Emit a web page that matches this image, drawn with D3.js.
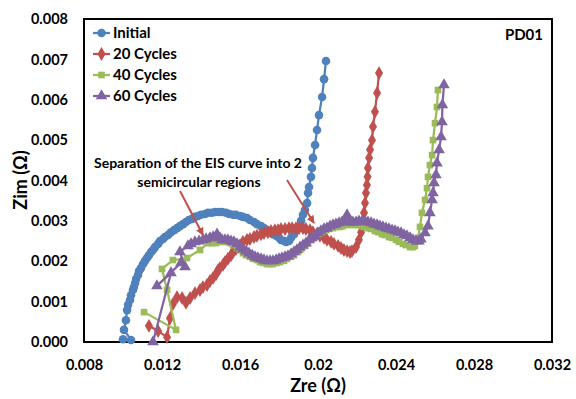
<!DOCTYPE html>
<html><head><meta charset="utf-8">
<script src="https://cdn.jsdelivr.net/npm/d3@7"></script>
<style>
html,body{margin:0;padding:0;background:#fff;}
svg{display:block;font-family:Lato,"Open Sans",sans-serif;font-weight:bold;}
</style></head>
<body>
<svg id="chart" width="576" height="399"></svg>
<script>
const seriesNames = ["Initial", "20 Cycles", "40 Cycles", "60 Cycles"];
const xTickValues = [0.008, 0.012, 0.016, 0.020, 0.024, 0.028, 0.032];
const xTickLabels = ["0.008", "0.012", "0.016", "0.02", "0.024", "0.028", "0.032"];
const yTickValues = [0, 0.001, 0.002, 0.003, 0.004, 0.005, 0.006, 0.007, 0.008];
const yTickLabels = ["0.000", "0.001", "0.002", "0.003", "0.004", "0.005", "0.006", "0.007", "0.008"];

const initialZre = [0.01000,0.01041,0.01005,0.01015,0.01021,0.01026,0.01036,0.01041,0.01051,0.01056,0.01062,0.01067,0.01077,0.01082,0.01092,0.01103,0.01113,0.01123,0.01133,0.01144,0.01154,0.01164,0.01180,0.01190,0.01205,0.01215,0.01231,0.01246,0.01262,0.01277,0.01292,0.01308,0.01323,0.01338,0.01354,0.01369,0.01385,0.01400,0.01421,0.01436,0.01456,0.01472,0.01492,0.01508,0.01528,0.01544,0.01564,0.01579,0.01600,0.01615,0.01636,0.01651,0.01672,0.01687,0.01708,0.01723,0.01738,0.01754,0.01769,0.01785,0.01800,0.01810,0.01826,0.01836,0.01851,0.01862,0.01877,0.01887,0.01897,0.01913,0.01923,0.01933,0.01944,0.01949,0.01954,0.01964,0.01969,0.01974,0.01985,0.01995,0.02005,0.02021,0.02031,0.02041];
const initialZim = [0.00007,0.00005,0.00030,0.00054,0.00079,0.00092,0.00104,0.00116,0.00129,0.00136,0.00146,0.00156,0.00166,0.00176,0.00183,0.00193,0.00201,0.00208,0.00215,0.00223,0.00228,0.00235,0.00243,0.00250,0.00255,0.00260,0.00265,0.00272,0.00277,0.00282,0.00287,0.00292,0.00297,0.00302,0.00305,0.00310,0.00312,0.00315,0.00317,0.00320,0.00320,0.00322,0.00322,0.00322,0.00320,0.00317,0.00315,0.00315,0.00312,0.00310,0.00307,0.00302,0.00297,0.00292,0.00287,0.00282,0.00277,0.00272,0.00267,0.00263,0.00258,0.00253,0.00250,0.00248,0.00250,0.00258,0.00267,0.00277,0.00285,0.00300,0.00315,0.00327,0.00344,0.00369,0.00384,0.00409,0.00431,0.00456,0.00488,0.00525,0.00562,0.00607,0.00651,0.00696];

const c20Zre = [0.01133,0.01180,0.01226,0.01241,0.01256,0.01277,0.01303,0.01323,0.01344,0.01369,0.01395,0.01410,0.01431,0.01446,0.01462,0.01477,0.01487,0.01497,0.01513,0.01523,0.01538,0.01554,0.01564,0.01579,0.01590,0.01600,0.01615,0.01636,0.01651,0.01672,0.01687,0.01708,0.01723,0.01743,0.01759,0.01779,0.01795,0.01810,0.01831,0.01851,0.01867,0.01887,0.01903,0.01923,0.01938,0.01959,0.01974,0.01995,0.02010,0.02031,0.02046,0.02067,0.02082,0.02103,0.02118,0.02133,0.02149,0.02164,0.02174,0.02195,0.02210,0.02221,0.02226,0.02236,0.02241,0.02246,0.02251,0.02254,0.02256,0.02262,0.02267,0.02277,0.02282,0.02292,0.02303,0.02313];
const c20Zim = [0.00040,0.00027,0.00012,0.00059,0.00094,0.00111,0.00109,0.00097,0.00109,0.00121,0.00129,0.00136,0.00141,0.00151,0.00159,0.00168,0.00178,0.00183,0.00191,0.00198,0.00206,0.00215,0.00223,0.00230,0.00235,0.00240,0.00248,0.00253,0.00255,0.00260,0.00263,0.00267,0.00270,0.00272,0.00275,0.00277,0.00277,0.00280,0.00280,0.00282,0.00282,0.00282,0.00282,0.00282,0.00280,0.00277,0.00272,0.00268,0.00263,0.00258,0.00253,0.00248,0.00243,0.00238,0.00233,0.00228,0.00225,0.00223,0.00225,0.00235,0.00253,0.00272,0.00297,0.00320,0.00344,0.00369,0.00389,0.00409,0.00431,0.00456,0.00476,0.00500,0.00533,0.00570,0.00617,0.00666];

const c40Zre = [0.01108,0.01272,0.01226,0.01200,0.01256,0.01328,0.01395,0.01436,0.01456,0.01477,0.01492,0.01513,0.01528,0.01549,0.01564,0.01585,0.01600,0.01615,0.01631,0.01651,0.01667,0.01687,0.01703,0.01718,0.01738,0.01754,0.01769,0.01790,0.01805,0.01826,0.01841,0.01862,0.01877,0.01897,0.01913,0.01933,0.01949,0.01969,0.01985,0.02005,0.02021,0.02041,0.02056,0.02077,0.02092,0.02113,0.02128,0.02149,0.02164,0.02185,0.02200,0.02221,0.02236,0.02256,0.02272,0.02292,0.02308,0.02328,0.02344,0.02364,0.02380,0.02400,0.02415,0.02436,0.02451,0.02472,0.02487,0.02497,0.02513,0.02523,0.02533,0.02549,0.02559,0.02564,0.02574,0.02585,0.02590,0.02600,0.02610,0.02615];
const c40Zim = [0.00074,0.00030,0.00129,0.00181,0.00203,0.00208,0.00228,0.00245,0.00245,0.00245,0.00248,0.00248,0.00248,0.00245,0.00240,0.00233,0.00228,0.00220,0.00215,0.00211,0.00206,0.00203,0.00198,0.00196,0.00193,0.00193,0.00193,0.00196,0.00198,0.00201,0.00206,0.00211,0.00215,0.00223,0.00230,0.00238,0.00245,0.00255,0.00263,0.00268,0.00272,0.00277,0.00280,0.00282,0.00285,0.00285,0.00287,0.00290,0.00290,0.00290,0.00290,0.00287,0.00285,0.00282,0.00280,0.00275,0.00272,0.00267,0.00265,0.00260,0.00258,0.00253,0.00248,0.00243,0.00240,0.00235,0.00235,0.00238,0.00258,0.00285,0.00320,0.00352,0.00381,0.00409,0.00438,0.00463,0.00500,0.00542,0.00582,0.00624];

const c60Zre = [0.01154,0.01246,0.01174,0.01297,0.01318,0.01292,0.01333,0.01349,0.01369,0.01390,0.01410,0.01426,0.01446,0.01462,0.01482,0.01497,0.01508,0.01523,0.01538,0.01554,0.01569,0.01585,0.01600,0.01615,0.01631,0.01646,0.01662,0.01677,0.01692,0.01708,0.01723,0.01738,0.01754,0.01769,0.01785,0.01800,0.01815,0.01831,0.01846,0.01862,0.01877,0.01892,0.01908,0.01923,0.01938,0.01954,0.01969,0.01985,0.02000,0.02015,0.02031,0.02046,0.02062,0.02077,0.02092,0.02108,0.02123,0.02138,0.02149,0.02164,0.02179,0.02195,0.02210,0.02226,0.02241,0.02256,0.02272,0.02287,0.02303,0.02318,0.02333,0.02349,0.02364,0.02380,0.02395,0.02410,0.02426,0.02441,0.02456,0.02472,0.02487,0.02503,0.02518,0.02528,0.02549,0.02564,0.02574,0.02585,0.02590,0.02595,0.02605,0.02610,0.02621,0.02631,0.02636,0.02638,0.02646];
const c60Zim = [0.00000,0.00171,0.00139,0.00196,0.00186,0.00223,0.00238,0.00243,0.00248,0.00250,0.00253,0.00255,0.00258,0.00260,0.00267,0.00258,0.00253,0.00253,0.00253,0.00250,0.00248,0.00243,0.00235,0.00230,0.00225,0.00220,0.00215,0.00211,0.00208,0.00206,0.00203,0.00201,0.00201,0.00201,0.00203,0.00206,0.00208,0.00211,0.00213,0.00218,0.00223,0.00228,0.00235,0.00240,0.00245,0.00253,0.00258,0.00263,0.00270,0.00275,0.00280,0.00282,0.00287,0.00290,0.00292,0.00295,0.00297,0.00299,0.00315,0.00297,0.00297,0.00297,0.00299,0.00299,0.00299,0.00297,0.00295,0.00292,0.00290,0.00287,0.00285,0.00282,0.00280,0.00277,0.00275,0.00272,0.00270,0.00265,0.00263,0.00258,0.00253,0.00250,0.00250,0.00255,0.00270,0.00287,0.00320,0.00352,0.00369,0.00394,0.00414,0.00443,0.00476,0.00508,0.00545,0.00587,0.00637];

const colors = ["#4F81BD", "#C0504D", "#9BBB59", "#8064A2"];
const symbols = [d3.symbolCircle, d3.symbolDiamond, d3.symbolSquare, d3.symbolTriangle];
const symSizes = [58, 56, 44, 58];

const series = [
  {name: seriesNames[0], xs: initialZre, ys: initialZim},
  {name: seriesNames[1], xs: c20Zre, ys: c20Zim},
  {name: seriesNames[2], xs: c40Zre, ys: c40Zim},
  {name: seriesNames[3], xs: c60Zre, ys: c60Zim}
].map((s, i) => ({...s, color: colors[i], symbol: symbols[i], size: symSizes[i],
  pts: s.xs.map((v, j) => [v, s.ys[j]])}));

const svg = d3.select("#chart");
const m = {left: 84, top: 19, right: 552, bottom: 342};
const x = d3.scaleLinear().domain([0.008, 0.032]).range([m.left, m.right]);
const y = d3.scaleLinear().domain([0, 0.008]).range([m.bottom, m.top]);

// axes
const xAxis = svg.append("g").attr("transform", `translate(0,${m.bottom})`)
  .call(d3.axisBottom(x).tickValues(xTickValues).tickSize(0).tickPadding(18)
    .tickFormat((d, i) => xTickLabels[i]));
const yAxis = svg.append("g").attr("transform", `translate(${m.left},0)`)
  .call(d3.axisLeft(y).tickValues(yTickValues).tickSize(0).tickPadding(16)
    .tickFormat((d, i) => yTickLabels[i]));
[xAxis, yAxis].forEach(g => {
  g.select(".domain").remove();
  g.selectAll("text").attr("font-family", "Lato, sans-serif").attr("font-weight", "bold")
    .attr("font-size", 14.5).attr("fill", "#000");
});

// frame
svg.append("rect").attr("x", m.left).attr("y", m.top)
  .attr("width", m.right - m.left).attr("height", m.bottom - m.top)
  .attr("fill", "none").attr("stroke", "#000").attr("stroke-width", 2);

// series
const line = d3.line().x(d => x(d[0])).y(d => y(d[1]));
const plot = svg.append("g");
series.forEach(s => {
  const g = plot.append("g");
  g.append("path").attr("d", line(s.pts)).attr("fill", "none")
    .attr("stroke", s.color).attr("stroke-width", 2.25).attr("stroke-linejoin", "round");
  g.selectAll("path.mk").data(s.pts).join("path").attr("class", "mk")
    .attr("d", d3.symbol().type(s.symbol).size(s.size))
    .attr("transform", d => `translate(${x(d[0])},${y(d[1])})`)
    .attr("fill", s.color);
});

// legend
const leg = svg.append("g");
series.forEach((s, i) => {
  const ly = [33, 54, 75, 96][i];
  leg.append("line").attr("x1", 93).attr("x2", 110).attr("y1", ly).attr("y2", ly)
    .attr("stroke", s.color).attr("stroke-width", 2.25);
  leg.append("path").attr("d", d3.symbol().type(s.symbol).size(s.size))
    .attr("transform", `translate(101.5,${ly})`).attr("fill", s.color);
  leg.append("text").attr("x", 113).attr("y", ly).attr("dy", "0.36em")
    .attr("font-size", 15).text(s.name);
});

// PD01
svg.append("text").attr("x", 543).attr("y", 35).attr("dy", "0.36em")
  .attr("text-anchor", "end").attr("font-size", 15).text("PD01");

// axis titles
svg.append("text").attr("x", 318).attr("y", 386).attr("dy", "0.36em")
  .attr("text-anchor", "middle").attr("font-size", 18).text("Zre (Ω)");
svg.append("text").attr("transform", "translate(21,180) rotate(-90)").attr("dy", "0.36em")
  .attr("text-anchor", "middle").attr("font-size", 18).text("Zim (Ω)");

// annotation
svg.append("text").attr("x", 198).attr("y", 163).attr("dy", "0.36em")
  .attr("text-anchor", "middle").attr("font-size", 14).text("Separation of the EIS curve into 2");
svg.append("text").attr("x", 199).attr("y", 182).attr("dy", "0.36em")
  .attr("text-anchor", "middle").attr("font-size", 14).text("semicircular regions");

const defs = svg.append("defs");
defs.append("marker").attr("id", "ah").attr("viewBox", "0 0 10 10").attr("refX", 9).attr("refY", 5)
  .attr("markerWidth", 4).attr("markerHeight", 4).attr("orient", "auto")
  .append("path").attr("d", "M0,0 L10,5 L0,10 z").attr("fill", "#C0504D");
[[180, 191, 203, 235], [287, 180, 314, 223]].forEach(a => {
  svg.append("line").attr("x1", a[0]).attr("y1", a[1]).attr("x2", a[2]).attr("y2", a[3])
    .attr("stroke", "#C0504D").attr("stroke-width", 2).attr("marker-end", "url(#ah)");
});
</script>
</body></html>
